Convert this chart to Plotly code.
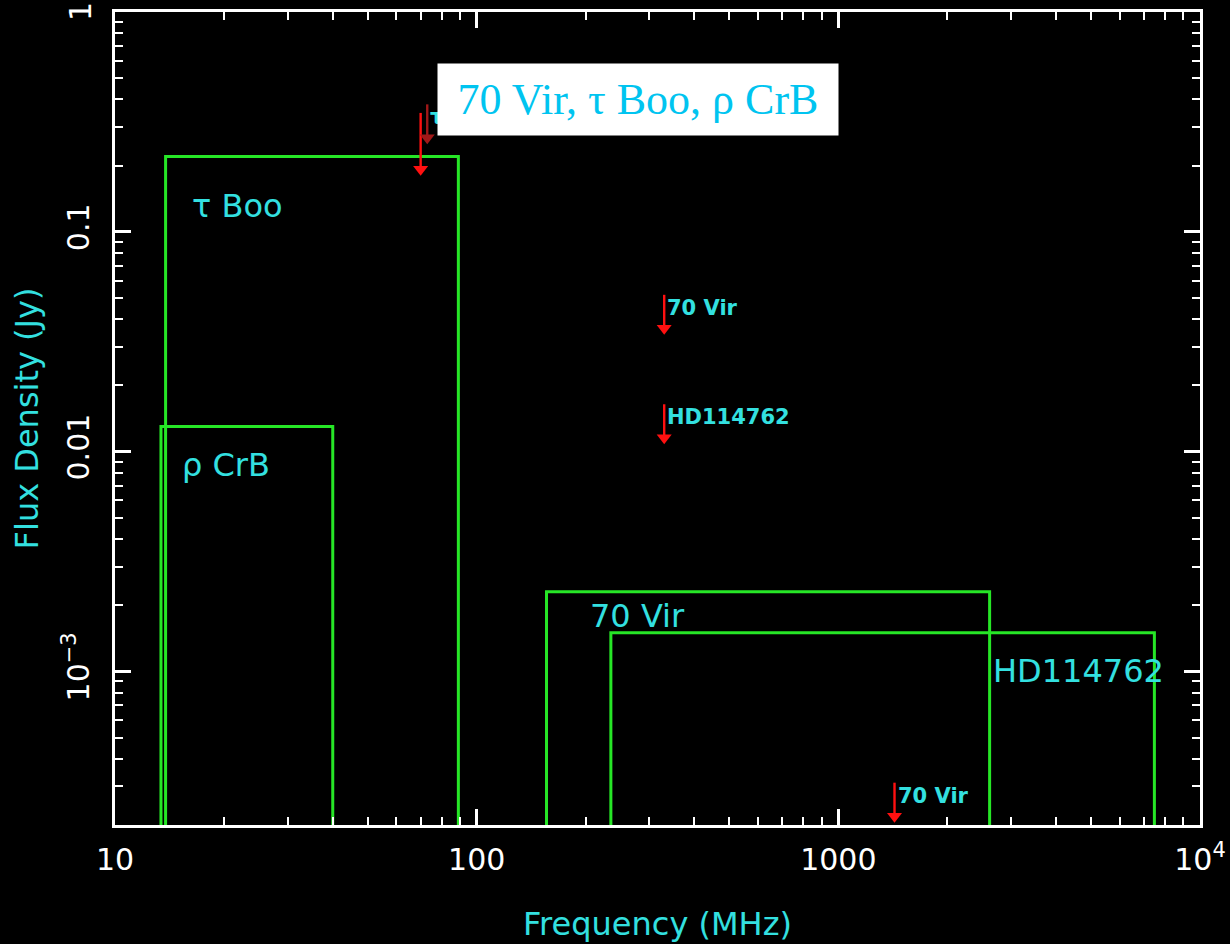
import math
import plotly.graph_objects as go

# ---- data ----
box_names = ["τ Boo", "ρ CrB", "70 Vir", "HD114762"]
box_f_lo = [13.8, 13.4, 156, 235]          # MHz
box_f_hi = [89, 40, 2620, 7480]            # MHz
box_s_top = [0.22, 0.013, 0.0023, 0.0015]  # Jy

lim_names = ["", "τ Boo", "70 Vir", "HD114762", "70 Vir"]
lim_freq = [70, 73, 330, 330, 1430]              # MHz
lim_flux = [0.18, 0.25, 0.034, 0.0108, 2.05e-4]  # Jy (upper limits)

x_tickvals = [10, 100, 1000, 10000]
x_ticktext = ["10", "100", "1000", "10<sup>4</sup>"]
y_tickvals = [1e-3, 1e-2, 1e-1, 1]
y_ticktext = ["10<sup>−3</sup>", "0.01", "0.1", "1"]

title_text = "70 Vir, τ Boo, ρ CrB"

# ---- style ----
GREEN = "#26e626"
CYAN = "#33e0e0"
RED = "#ff1010"
DARKRED = "#a01818"
FONT = "DejaVu Sans"
W, H = 1230, 944
L, R, T, B = 115, 30, 12, 119
pw, ph = W - L - R, H - T - B
HEAD = 13                      # arrow head marker size (px)
HEAD_LIFT = 10 ** (6.5 / 220)  # lift head centre so its tip sits on the limit
Y_TOP = 1.0                    # top of the flux axis

fig = go.Figure()

# boxes
for n, lo, hi, top in zip(box_names, box_f_lo, box_f_hi, box_s_top):
    fig.add_trace(go.Scatter(
        x=[lo, lo, hi, hi], y=[1e-5, top, top, 1e-5],
        mode="lines", line=dict(color=GREEN, width=3),
        name=n, showlegend=False, hoverinfo="skip"))

# upper-limit arrows (stem + triangular head with tip at the limit)
for i, (n, f, s) in enumerate(zip(lim_names, lim_freq, lim_flux)):
    col = DARKRED if i == 1 else RED
    stem = 1.93 if i == 0 else 1.52   # stem length as a flux factor
    fig.add_trace(go.Scatter(
        x=[f, f], y=[s * stem, s * HEAD_LIFT], mode="lines",
        line=dict(color=col, width=2.4),
        cliponaxis=False, showlegend=False, hoverinfo="skip"))
    fig.add_trace(go.Scatter(
        x=[f], y=[s * HEAD_LIFT], mode="markers",
        marker=dict(symbol="triangle-down", size=HEAD, color=col, line=dict(width=0)),
        cliponaxis=False, showlegend=False, hoverinfo="skip"))

annotations = []
# box labels (pixel offsets from the box's upper-left corner)
label_offsets = {"τ Boo": (24, -49), "ρ CrB": (19, -38), "70 Vir": (41, -24)}
for n, lo, hi, top in zip(box_names, box_f_lo, box_f_hi, box_s_top):
    if n in label_offsets:
        dx, dy = label_offsets[n]
        ax_x = lo
    else:
        dx, dy = 1, -38
        ax_x = box_f_hi[2]   # HD114762 label sits just right of the 70 Vir box edge
    annotations.append(dict(
        x=math.log10(ax_x), y=math.log10(top), xref="x", yref="y",
        text=n, showarrow=False, xanchor="left", yanchor="middle",
        xshift=dx, yshift=dy, font=dict(family=FONT, size=32, color=CYAN)))

# labels for limits
for n, f, s in zip(lim_names, lim_freq, lim_flux):
    if n:
        annotations.append(dict(
            x=math.log10(f), y=math.log10(s), xref="x", yref="y",
            text="<b>%s</b>" % n, showarrow=False, xanchor="left", yanchor="middle",
            xshift=1, yshift=27, font=dict(family=FONT, size=21, color=CYAN)))

# tick label at the very top of the flux axis (drawn as annotation so it is not clipped)
axis_ticks = [(v, t) for v, t in zip(y_tickvals, y_ticktext) if v < Y_TOP]
top_label = [t for v, t in zip(y_tickvals, y_ticktext) if v >= Y_TOP]
for t in top_label:
    annotations.append(dict(
        x=0, y=1, xref="paper", yref="paper", text=t, showarrow=False,
        textangle=-90, xanchor="center", yanchor="middle", xshift=-35,
        font=dict(family=FONT, size=30, color="white")))

# title box (drawn last, on top)
annotations.append(dict(
    x=(638 - L) / pw, y=1 - (100 - T) / ph, xref="paper", yref="paper",
    text=title_text, showarrow=False,
    font=dict(family="Liberation Serif", size=44, color="#00c4f0"),
    bgcolor="white", borderpad=0, width=400, height=71,
    xanchor="center", yanchor="middle"))

axis_common = dict(
    type="log", showgrid=False, zeroline=False, automargin=False,
    showline=True, linecolor="white", linewidth=3, mirror="ticks",
    ticks="inside", ticklen=16, tickwidth=2.5, tickcolor="white",
    tickfont=dict(family=FONT, size=30, color="white"),
    tickmode="array", ticklabeloverflow="allow",
)

x_minor = [m * 10 ** d for d in range(1, 4) for m in range(2, 10)]
y_minor = [m * 10 ** d for d in range(-4, 0) for m in range(2, 10)]

fig.update_layout(
    width=W, height=H,
    margin=dict(l=L, r=R, t=T, b=B),
    paper_bgcolor="black", plot_bgcolor="black",
    annotations=annotations,
    xaxis=dict(axis_common, range=[1, 4], tickvals=x_tickvals, ticktext=x_ticktext,
               ticklabelstandoff=6,
               minor=dict(tickmode="array", tickvals=x_minor, ticks="inside",
                          ticklen=8, tickwidth=2, tickcolor="white", showgrid=False),
               title=dict(text="Frequency (MHz)", standoff=37,
                          font=dict(family=FONT, size=32, color=CYAN))),
    yaxis=dict(axis_common, range=[math.log10(2e-4), math.log10(Y_TOP)],
               tickvals=[v for v, _ in axis_ticks], ticktext=[t for _, t in axis_ticks],
               tickangle=-90, ticklabelstandoff=11,
               minor=dict(tickmode="array", tickvals=y_minor, ticks="inside",
                          ticklen=8, tickwidth=2, tickcolor="white", showgrid=False),
               title=dict(text="Flux Density (Jy)", standoff=10,
                          font=dict(family=FONT, size=32, color=CYAN))),
)

fig.write_html(
    "out.html",
    config={"displayModeBar": False},
    post_script="document.body.style.margin='0';"
                "document.body.style.background='black';"
                "document.body.style.overflow='hidden';",
)
